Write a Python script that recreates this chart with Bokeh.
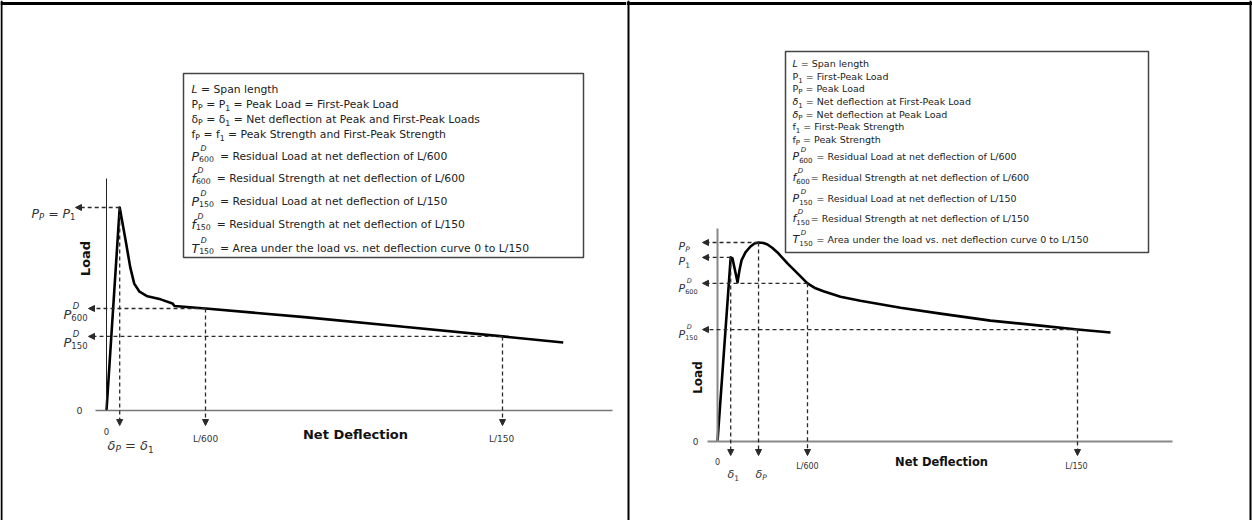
import math
from bokeh.plotting import figure
from bokeh.layouts import row
from bokeh.models import (Range1d, LinearAxis, FixedTicker, Label, Arrow,
                          NormalHead, Span, BoxAnnotation)
from bokeh.embed import file_html
from bokeh.resources import INLINE

# ---------------- data (net deflection in mm for L = 450 mm, load in kN) ----------------
l600 = 0.75
l150 = 3.0

left_deflection = [0.0, 0.10, 0.145, 0.18, 0.21, 0.25, 0.31, 0.41, 0.50, 0.515,
                   0.75, 1.50, 2.25, 3.00, 3.46]
left_load = [0.0, 40.0, 33.5, 28.2, 25.0, 23.4, 22.5, 21.9, 21.1, 20.6,
             20.1, 18.4, 16.5, 14.6, 13.4]
left_peak_deflection = 0.10
left_peak_load = 40.0
left_p600 = 20.1
left_p150 = 14.6

right_deflection = [0.0, 0.11, 0.125, 0.167, 0.183, 0.20, 0.233, 0.275, 0.308, 0.342,
                    0.383, 0.417, 0.458, 0.50, 0.583, 0.667, 0.75, 0.817, 0.883,
                    1.025, 1.19, 1.525, 1.858, 2.275, 2.69, 3.0, 3.275]
right_load = [0.0, 37.0, 36.8, 32.0, 34.4, 36.4, 38.0, 39.2, 39.8, 40.0,
              39.9, 39.6, 38.9, 38.0, 35.8, 33.8, 31.8, 30.8, 30.2,
              29.1, 28.3, 26.9, 25.7, 24.3, 23.3, 22.5, 21.9]
right_d1, right_p1 = 0.11, 37.0
right_dp, right_pp = 0.342, 40.0
right_p600 = 31.8
right_p150 = 22.5

FONT = "DejaVu Sans"
ADV = {' ': 651, '=': 1716, 'P': 1235, 'L': 1141, 'T': 1251, 'D': 1577,
       'f': 721, 'δ': 1253, '/': 690}
for _d in "0123456789":
    ADV[_d] = 1303


def tw(s, size):
    return sum(ADV.get(c, 1260) for c in s) / 2048.0 * size


class Panel:
    def __init__(self, left, width, ox, oy, sx, sy):
        self.left, self.width = left, width
        self.ox, self.oy, self.sx, self.sy = ox, oy, sx, sy

    def xd(self, px):
        return (px - self.ox) / self.sx

    def yd(self, py):
        return (self.oy - py) / self.sy


def make_fig(P):
    p = figure(width=P.width, height=520,
               x_range=Range1d(P.xd(P.left), P.xd(P.left + P.width)),
               y_range=Range1d(P.yd(520), P.yd(0)),
               min_border=0, x_axis_location=None, y_axis_location=None,
               toolbar_location=None, output_backend="svg",
               outline_line_color=None, background_fill_color="white",
               border_fill_color="white")
    p.xgrid.grid_line_color = None
    p.ygrid.grid_line_color = None
    return p


def put(p, P, xpx, ypx, text, size, style="normal", align="left",
        baseline="alphabetic", angle=0.0, color="#222222"):
    p.add_layout(Label(x=P.xd(xpx), y=P.yd(ypx), text=text, text_font=FONT,
                       text_font_size=f"{size}px", text_font_style=style,
                       text_align=align, text_baseline=baseline, angle=angle,
                       text_color=color))


def rich(p, P, x, yc, base, parts, color="#222222"):
    bl = yc + 0.36 * base
    for part in parts:
        k = part[0]
        if k == 't':
            _, s, st, sz = part
            put(p, P, x, bl, s, sz, st, color=color)
            x += tw(s, sz)
        elif k == 'sub':
            _, s, st, sz = part
            put(p, P, x, bl + 0.3 * base, s, sz, st, color=color)
            x += tw(s, sz)
        elif k == 'ss':
            _, sup, sub, sz, symsz = part
            put(p, P, x + 1.5, bl - 0.66 * symsz, sup, sz, 'italic', color=color)
            put(p, P, x, bl + 0.24 * symsz, sub, sz, 'normal', color=color)
            x += max(tw(sup, sz) + 1.5, tw(sub, sz))
        elif k == 'g':
            x += part[1] if len(part) > 1 else tw(' ', base)
    return x


def axes(p, P, xb, yb, color, width_x, ycolor, width_y):
    xa = LinearAxis(fixed_location=0, bounds=(P.xd(xb[0]), P.xd(xb[1])),
                    ticker=FixedTicker(ticks=[]), axis_line_color=color,
                    axis_line_width=width_x, major_tick_line_color=None,
                    minor_tick_line_color=None, major_label_text_font_size="0px",
                    major_label_standoff=0)
    ya = LinearAxis(fixed_location=0, bounds=(0, P.yd(yb)),
                    ticker=FixedTicker(ticks=[]), axis_line_color=ycolor,
                    axis_line_width=width_y, major_tick_line_color=None,
                    minor_tick_line_color=None, major_label_text_font_size="0px",
                    major_label_standoff=0)
    p.add_layout(xa, "below")
    p.add_layout(ya, "left")


DASH = "#2a2a2a"


def arrow(p, x0, y0, x1, y1):
    p.add_layout(Arrow(end=NormalHead(size=6, fill_color=DASH, line_color=DASH,
                                      line_width=1),
                       x_start=x0, y_start=y0, x_end=x1, y_end=y1,
                       line_color=DASH, line_width=1.3, line_dash="4 3"))


def borders(p, P, xs):
    for xpx in xs:
        p.add_layout(Span(location=P.xd(xpx), dimension="height",
                          line_color="black", line_width=2))
    p.add_layout(Span(location=P.yd(3), dimension="width",
                      line_color="black", line_width=3))


# ======================= LEFT PANEL =======================
PL = Panel(0, 626, 106, 410, 132.0, 5.075)
pl = make_fig(PL)
borders(pl, PL, [1])
axes(pl, PL, (95, 612), 178, "#777777", 1.5, "#222222", 1)

for xv, yv, tip in [(left_peak_deflection, left_peak_load, 75),
                    (l600, left_p600, 88), (l150, left_p150, 88)]:
    arrow(pl, xv, yv, PL.xd(tip), yv)
    arrow(pl, xv, yv, xv, PL.yd(425))

pl.line(left_deflection, left_load, line_width=2.6, line_color="black",
        line_join="round")

# legend box
pl.add_layout(BoxAnnotation(left=PL.xd(183), right=PL.xd(583), top=PL.yd(73),
                            bottom=PL.yd(257), fill_color="white", fill_alpha=1,
                            line_color="#444444", line_width=1.5, line_alpha=1))
LB, LS, LSYM = 10.8, 7.8, 12.5
left_lines = [
    [('t', 'L', 'italic', LB), ('g',), ('t', '= Span length', 'normal', LB)],
    [('t', 'P', 'normal', LB), ('sub', 'P', 'normal', LS), ('g',), ('t', '= P', 'normal', LB),
     ('sub', '1', 'normal', LS), ('g',), ('t', '= Peak Load = First-Peak Load', 'normal', LB)],
    [('t', 'δ', 'normal', LB), ('sub', 'P', 'normal', LS), ('g',), ('t', '= δ', 'normal', LB),
     ('sub', '1', 'normal', LS), ('g',),
     ('t', '= Net deflection at Peak and First-Peak Loads', 'normal', LB)],
    [('t', 'f', 'normal', LB), ('sub', 'P', 'normal', LS), ('g',), ('t', '= f', 'normal', LB),
     ('sub', '1', 'normal', LS), ('g',),
     ('t', '= Peak Strength and First-Peak Strength', 'normal', LB)],
    [('t', 'P', 'italic', LSYM), ('ss', 'D', '600', LS, LSYM), ('g', 6),
     ('t', '= Residual Load at net deflection of L/600', 'normal', LB)],
    [('t', 'f', 'italic', LSYM), ('ss', 'D', '600', LS, LSYM), ('g', 6),
     ('t', '= Residual Strength at net deflection of L/600', 'normal', LB)],
    [('t', 'P', 'italic', LSYM), ('ss', 'D', '150', LS, LSYM), ('g', 6),
     ('t', '= Residual Load at net deflection of L/150', 'normal', LB)],
    [('t', 'f', 'italic', LSYM), ('ss', 'D', '150', LS, LSYM), ('g', 6),
     ('t', '= Residual Strength at net deflection of L/150', 'normal', LB)],
    [('t', 'T', 'italic', LSYM), ('ss', 'D', '150', LS, LSYM), ('g', 6),
     ('t', '= Area under the load vs. net deflection curve 0 to L/150', 'normal', LB)],
]
left_centers = [85, 100, 115, 130, 152, 174, 197, 220, 244]
for parts, yc in zip(left_lines, left_centers):
    rich(pl, PL, 191, yc, LB, parts)

# axis texts
put(pl, PL, 85, 258, "Load", 13, "bold", "center", "middle", math.pi / 2, "#111111")
put(pl, PL, 355, 434, "Net Deflection", 13, "bold", "center", "middle", 0, "#111111")
put(pl, PL, 79, 410, "0", 9.5, "normal", "center", "middle", 0, "#333333")
put(pl, PL, 106, 431, "0", 8.5, "normal", "center", "middle", 0, "#333333")
put(pl, PL, 205, 438, "L/600", 9, "normal", "center", "middle", 0, "#333333")
put(pl, PL, 501, 438, "L/150", 9, "normal", "center", "middle", 0, "#333333")
rich(pl, PL, 107, 440, 13, [('t', 'δ', 'italic', 13), ('sub', 'P', 'italic', 9), ('g',),
                            ('t', '= δ', 'italic', 13), ('sub', '1', 'normal', 9)], "#333333")
rich(pl, PL, 31, 208, 12.5, [('t', 'P', 'italic', 12.5), ('sub', 'P', 'italic', 8.5), ('g',),
                             ('t', '= P', 'italic', 12.5), ('sub', '1', 'normal', 8.5)], "#333333")
for yc, sub in [(309, '600'), (337, '150')]:
    rich(pl, PL, 63, yc, 13, [('t', 'P', 'italic', 13), ('ss', 'D', sub, 8.5, 13)], "#333333")

# ======================= RIGHT PANEL =======================
PR = Panel(626, 626, 717, 441, 120.0, 4.975)
pr = make_fig(PR)
borders(pr, PR, [628, 1250])
axes(pr, PR, (707, 1172), 228, "#888888", 2, "#888888", 2)

for xv, yv in [(right_dp, right_pp), (right_d1, right_p1),
               (l600, right_p600), (l150, right_p150)]:
    arrow(pr, xv, yv, PR.xd(702), yv)
    arrow(pr, xv, yv, xv, PR.yd(455))

pr.line(right_deflection, right_load, line_width=2.6, line_color="black",
        line_join="round")

pr.add_layout(BoxAnnotation(left=PR.xd(785), right=PR.xd(1148), top=PR.yd(51),
                            bottom=PR.yd(252), fill_color="white", fill_alpha=1,
                            line_color="#444444", line_width=1.5, line_alpha=1))
RB, RS, RSYM = 9.5, 7, 11
right_lines = [
    [('t', 'L', 'italic', RB), ('g',), ('t', '= Span length', 'normal', RB)],
    [('t', 'P', 'normal', RB), ('sub', '1', 'normal', RS), ('g',), ('t', '= First-Peak Load', 'normal', RB)],
    [('t', 'P', 'normal', RB), ('sub', 'P', 'normal', RS), ('g',), ('t', '= Peak Load', 'normal', RB)],
    [('t', 'δ', 'italic', RB), ('sub', '1', 'normal', RS), ('g',),
     ('t', '= Net deflection at First-Peak Load', 'normal', RB)],
    [('t', 'δ', 'italic', RB), ('sub', 'P', 'normal', RS), ('g',),
     ('t', '= Net deflection at Peak Load', 'normal', RB)],
    [('t', 'f', 'normal', RB), ('sub', '1', 'normal', RS), ('g',), ('t', '= First-Peak Strength', 'normal', RB)],
    [('t', 'f', 'normal', RB), ('sub', 'P', 'normal', RS), ('g',), ('t', '= Peak Strength', 'normal', RB)],
    [('t', 'P', 'italic', RSYM), ('ss', 'D', '600', RS, RSYM), ('g', 4),
     ('t', '= Residual Load at net deflection of L/600', 'normal', RB)],
    [('t', 'f', 'italic', RSYM), ('ss', 'D', '600', RS, RSYM), ('g', 1),
     ('t', '= Residual Strength at net deflection of L/600', 'normal', RB)],
    [('t', 'P', 'italic', RSYM), ('ss', 'D', '150', RS, RSYM), ('g', 4),
     ('t', '= Residual Load at net deflection of L/150', 'normal', RB)],
    [('t', 'f', 'italic', RSYM), ('ss', 'D', '150', RS, RSYM), ('g', 1),
     ('t', '= Residual Strength at net deflection of L/150', 'normal', RB)],
    [('t', 'T', 'italic', RSYM), ('ss', 'D', '150', RS, RSYM), ('g', 4),
     ('t', '= Area under the load vs. net deflection curve 0 to L/150', 'normal', RB)],
]
right_centers = [60, 73, 85, 98, 111, 123, 136, 153, 174, 195, 215, 236]
for parts, yc in zip(right_lines, right_centers):
    rich(pr, PR, 792, yc, RB, parts)

put(pr, PR, 697, 377, "Load", 12, "bold", "center", "middle", math.pi / 2, "#111111")
put(pr, PR, 941, 461, "Net Deflection", 11.5, "bold", "center", "middle", 0, "#111111")
put(pr, PR, 695, 441, "0", 9, "normal", "center", "middle", 0, "#333333")
put(pr, PR, 717, 461, "0", 8, "normal", "center", "middle", 0, "#333333")
put(pr, PR, 807, 466, "L/600", 8, "normal", "center", "middle", 0, "#333333")
put(pr, PR, 1076, 466, "L/150", 8, "normal", "center", "middle", 0, "#333333")
rich(pr, PR, 727, 470, 11, [('t', 'δ', 'italic', 11), ('sub', '1', 'normal', 7.5)], "#333333")
rich(pr, PR, 755, 470, 11, [('t', 'δ', 'italic', 11), ('sub', 'P', 'italic', 7.5)], "#333333")
rich(pr, PR, 678, 242, 11, [('t', 'P', 'italic', 11), ('sub', 'P', 'italic', 7.5)], "#333333")
rich(pr, PR, 678, 257, 11, [('t', 'P', 'italic', 11), ('sub', '1', 'normal', 7.5)], "#333333")
for yc, sub in [(284, '600'), (330, '150')]:
    rich(pr, PR, 678, yc, 11, [('t', 'P', 'italic', 11), ('ss', 'D', sub, 6.5, 11)], "#333333")

layout = row(pl, pr)
open("out.html", "w").write(file_html(layout, INLINE))
